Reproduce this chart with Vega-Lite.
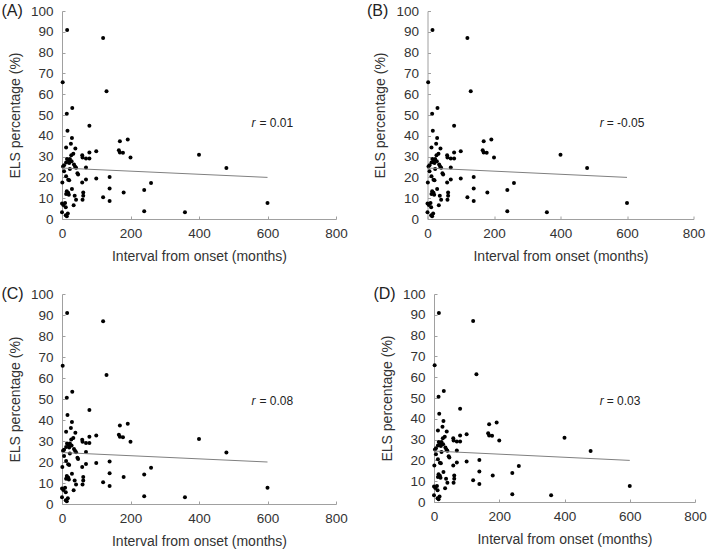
{
  "$schema": "https://vega.github.io/schema/vega-lite/v6.json",
  "padding": {"top": 2, "left": 1, "right": 0, "bottom": 0},
  "background": "white",
  "datasets": {
    "pts": [
      {"x":15,"y":90.9},{"x":120,"y":87},{"x":130,"y":61.4},{"x":2,"y":65.8},{"x":30,"y":53.4},{"x":14,"y":50.6},{"x":80,"y":44.8},{"x":16,"y":42.4},{"x":29,"y":39},{"x":26,"y":36.2},
      {"x":12,"y":34.4},{"x":39,"y":33.9},{"x":169,"y":37.4},{"x":192,"y":38.2},{"x":166,"y":33},{"x":169,"y":32},{"x":178,"y":31.8},{"x":100,"y":32.6},{"x":80,"y":32},{"x":33,"y":31.4},
      {"x":27,"y":30.7},{"x":59,"y":30.6},{"x":60,"y":29.6},{"x":70,"y":29.1},{"x":80,"y":29.1},{"x":200,"y":29.6},{"x":400,"y":30.9},{"x":480,"y":24.5},{"x":600,"y":7.7},{"x":14.6,"y":28.8},
      {"x":19.5,"y":28.2},{"x":23,"y":28.8},{"x":28,"y":27.8},{"x":21,"y":26.9},{"x":12,"y":27.2},{"x":6,"y":25.8},{"x":3,"y":25.3},{"x":35,"y":26.2},{"x":38,"y":25.3},{"x":41,"y":24.6},
      {"x":23,"y":24},{"x":45,"y":22},{"x":47,"y":21.4},{"x":6,"y":22.9},{"x":12,"y":20.5},{"x":18,"y":18.9},{"x":21,"y":18.6},{"x":1,"y":17.6},{"x":29,"y":14.4},{"x":14,"y":13.3},
      {"x":18,"y":12.6},{"x":12,"y":12},{"x":20,"y":11.7},{"x":37,"y":11.2},{"x":41,"y":9.3},{"x":34,"y":6.6},{"x":0,"y":7.4},{"x":4,"y":6.7},{"x":9,"y":7.7},{"x":11,"y":5.6},
      {"x":0,"y":3.2},{"x":11,"y":1.8},{"x":17,"y":2.7},{"x":14,"y":1.3},{"x":62,"y":12.8},{"x":62,"y":11.2},{"x":60,"y":9.3},{"x":59,"y":17.6},{"x":70,"y":19},{"x":70,"y":24.8},
      {"x":100,"y":19.5},{"x":139,"y":20.2},{"x":139,"y":14.7},{"x":260,"y":17.3},{"x":240,"y":14},{"x":180,"y":12.8},{"x":120,"y":10.4},{"x":139,"y":8.6},{"x":240,"y":3.7},{"x":359,"y":3.2}
    ],
    "fit": [{"x":0,"y":24.5},{"x":600,"y":20}]
  },
  "vconcat": [
    {
      "spacing": 18.5,
      "hconcat": [
        {
          "width": 274, "height": 208,
          "title": {"text": "(A)"},
          "layer": [
            {"data": {"name": "pts"}, "mark": {"type": "circle", "size": 16, "color": "black", "opacity": 1},
             "encoding": {
               "x": {"field": "x", "type": "quantitative", "scale": {"domain": [0, 800], "nice": false}, "axis": {"values": [0,200,400,600,800], "title": "Interval from onset (months)"}},
               "y": {"field": "y", "type": "quantitative", "scale": {"domain": [0, 100], "nice": false}, "axis": {"values": [0,10,20,30,40,50,60,70,80,90,100], "title": "ELS percentage (%)"}}}},
            {"data": {"name": "fit"}, "mark": {"type": "line", "color": "#808080", "strokeWidth": 1},
             "encoding": {"x": {"field": "x", "type": "quantitative"}, "y": {"field": "y", "type": "quantitative"}}},
            {"data": {"values": [{"t": "r"}]}, "mark": {"type": "text", "fontStyle": "italic", "align": "left", "baseline": "middle", "fontSize": 12, "font": "Liberation Sans", "color": "#222"},
             "encoding": {"text": {"field": "t"}, "x": {"datum": 553, "type": "quantitative"}, "y": {"datum": 46, "type": "quantitative"}}},
            {"data": {"values": [{"t": "= 0.01"}]}, "mark": {"type": "text", "align": "left", "baseline": "middle", "dx": 8, "fontSize": 12, "font": "Liberation Sans", "color": "#222"},
             "encoding": {"text": {"field": "t"}, "x": {"datum": 553, "type": "quantitative"}, "y": {"datum": 46, "type": "quantitative"}}}
          ]
        },
        {
          "width": 266, "height": 208,
          "title": {"text": "(B)"},
          "layer": [
            {"data": {"name": "pts"}, "mark": {"type": "circle", "size": 16, "color": "black", "opacity": 1},
             "encoding": {
               "x": {"field": "x", "type": "quantitative", "scale": {"domain": [0, 800], "nice": false}, "axis": {"values": [0,200,400,600,800], "title": "Interval from onset (months)"}},
               "y": {"field": "y", "type": "quantitative", "scale": {"domain": [0, 100], "nice": false}, "axis": {"values": [0,10,20,30,40,50,60,70,80,90,100], "title": "ELS percentage (%)"}}}},
            {"data": {"name": "fit"}, "mark": {"type": "line", "color": "#808080", "strokeWidth": 1},
             "encoding": {"x": {"field": "x", "type": "quantitative"}, "y": {"field": "y", "type": "quantitative"}}},
            {"data": {"values": [{"t": "r"}]}, "mark": {"type": "text", "fontStyle": "italic", "align": "left", "baseline": "middle", "fontSize": 12, "font": "Liberation Sans", "color": "#222"},
             "encoding": {"text": {"field": "t"}, "x": {"datum": 518, "type": "quantitative"}, "y": {"datum": 46, "type": "quantitative"}}},
            {"data": {"values": [{"t": "= -0.05"}]}, "mark": {"type": "text", "align": "left", "baseline": "middle", "dx": 7, "fontSize": 12, "font": "Liberation Sans", "color": "#222"},
             "encoding": {"text": {"field": "t"}, "x": {"datum": 518, "type": "quantitative"}, "y": {"datum": 46, "type": "quantitative"}}}
          ]
        }
      ]
    },
    {
      "spacing": 25,
      "hconcat": [
        {
          "width": 274, "height": 210,
          "title": {"text": "(C)"},
          "layer": [
            {"data": {"name": "pts"}, "mark": {"type": "circle", "size": 16, "color": "black", "opacity": 1},
             "encoding": {
               "x": {"field": "x", "type": "quantitative", "scale": {"domain": [0, 800], "nice": false}, "axis": {"values": [0,200,400,600,800], "title": "Interval from onset (months)"}},
               "y": {"field": "y", "type": "quantitative", "scale": {"domain": [0, 100], "nice": false}, "axis": {"values": [0,10,20,30,40,50,60,70,80,90,100], "title": "ELS percentage (%)"}}}},
            {"data": {"name": "fit"}, "mark": {"type": "line", "color": "#808080", "strokeWidth": 1},
             "encoding": {"x": {"field": "x", "type": "quantitative"}, "y": {"field": "y", "type": "quantitative"}}},
            {"data": {"values": [{"t": "r"}]}, "mark": {"type": "text", "fontStyle": "italic", "align": "left", "baseline": "middle", "fontSize": 12, "font": "Liberation Sans", "color": "#222"},
             "encoding": {"text": {"field": "t"}, "x": {"datum": 553, "type": "quantitative"}, "y": {"datum": 49, "type": "quantitative"}}},
            {"data": {"values": [{"t": "= 0.08"}]}, "mark": {"type": "text", "align": "left", "baseline": "middle", "dx": 8, "fontSize": 12, "font": "Liberation Sans", "color": "#222"},
             "encoding": {"text": {"field": "t"}, "x": {"datum": 553, "type": "quantitative"}, "y": {"datum": 49, "type": "quantitative"}}}
          ]
        },
        {
          "width": 261, "height": 208,
          "title": {"text": "(D)"},
          "layer": [
            {"data": {"name": "pts"}, "mark": {"type": "circle", "size": 16, "color": "black", "opacity": 1},
             "encoding": {
               "x": {"field": "x", "type": "quantitative", "scale": {"domain": [0, 800], "nice": false}, "axis": {"values": [0,200,400,600,800], "title": "Interval from onset (months)"}},
               "y": {"field": "y", "type": "quantitative", "scale": {"domain": [0, 100], "nice": false}, "axis": {"values": [0,10,20,30,40,50,60,70,80,90,100], "title": "ELS percentage (%)"}}}},
            {"data": {"name": "fit"}, "mark": {"type": "line", "color": "#808080", "strokeWidth": 1},
             "encoding": {"x": {"field": "x", "type": "quantitative"}, "y": {"field": "y", "type": "quantitative"}}},
            {"data": {"values": [{"t": "r"}]}, "mark": {"type": "text", "fontStyle": "italic", "align": "left", "baseline": "middle", "fontSize": 12, "font": "Liberation Sans", "color": "#222"},
             "encoding": {"text": {"field": "t"}, "x": {"datum": 508, "type": "quantitative"}, "y": {"datum": 48.5, "type": "quantitative"}}},
            {"data": {"values": [{"t": "= 0.03"}]}, "mark": {"type": "text", "align": "left", "baseline": "middle", "dx": 7, "fontSize": 12, "font": "Liberation Sans", "color": "#222"},
             "encoding": {"text": {"field": "t"}, "x": {"datum": 508, "type": "quantitative"}, "y": {"datum": 48.5, "type": "quantitative"}}}
          ]
        }
      ]
    }
  ],
  "spacing": 21,
  "config": {
    "view": {"stroke": null},
    "axis": {
      "grid": false,
      "domainColor": "#a0a0a0",
      "tickColor": "#a0a0a0",
      "tickSize": -3,
      "labelFont": "Liberation Sans",
      "labelFontSize": 13.5,
      "labelColor": "#333",
      "labelPadding": 12,
      "labelFlush": false,
      "labelOverlap": false,
      "titleFont": "Liberation Sans",
      "titleFontSize": 14,
      "titleFontWeight": "normal",
      "titleColor": "#333"
    },
    "axisY": {"titlePadding": 8, "tickCount": 11},
    "axisX": {"titlePadding": 10, "labelPadding": 10},
    "title": {
      "font": "Liberation Sans",
      "fontSize": 16,
      "fontWeight": "normal",
      "color": "#222",
      "anchor": "start",
      "frame": "bounds",
      "offset": -14.5,
      "baseline": "middle",
      "dx": -7
    }
  }
}
